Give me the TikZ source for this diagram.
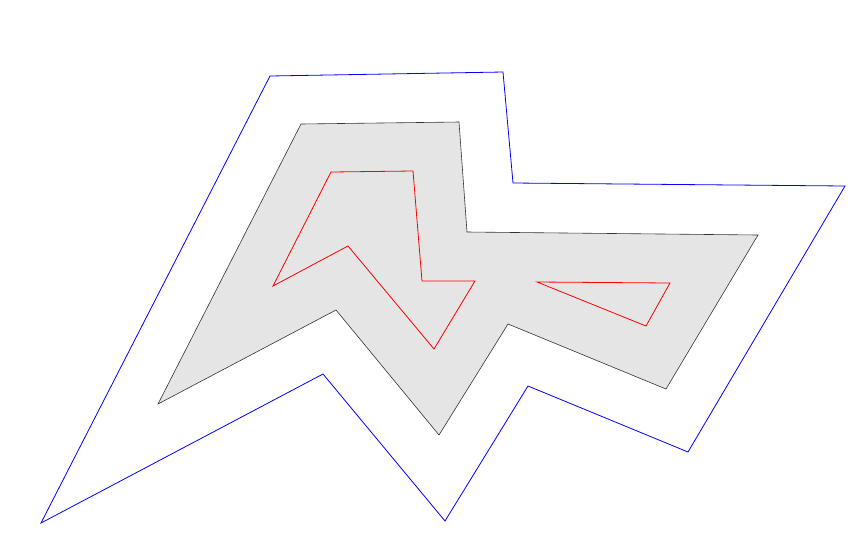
\documentclass[tikz,border=0pt]{standalone}
\begin{document}
\begin{tikzpicture}[x=1pt,y=-1pt,
  outer/.style={draw=blue,line width=0.8pt,line join=miter},
  mid/.style={draw=black!80,fill=black!10,line width=0.6pt},
  inner/.style={draw=red,line width=0.8pt}]
\useasboundingbox (0,0) rectangle (851,542);
\draw[outer] (270,76) -- (503,72) -- (513,183) -- (845,186) -- (688,452) -- (528,386) -- (445,521) -- (323,374) -- (41,523) -- cycle;
\draw[mid] (301,124) -- (459,122) -- (467,232) -- (758,235) -- (666,389) -- (508,324) -- (439,435) -- (336,310) -- (158,404) -- cycle;
\draw[inner] (331,172) -- (413,171) -- (422,281) -- (475,281) -- (434,349) -- (348,246) -- (273,286) -- cycle;
\draw[inner] (537,282) -- (670,283) -- (646,326) -- cycle;
\end{tikzpicture}
\end{document}
